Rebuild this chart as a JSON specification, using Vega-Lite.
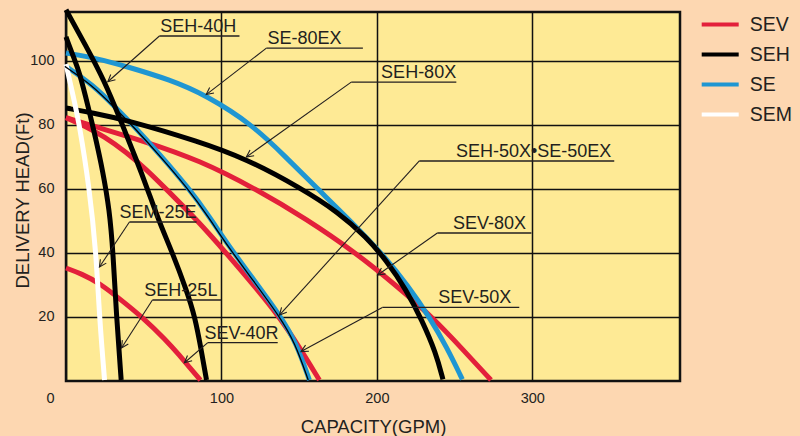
{
  "$schema": "https://vega.github.io/schema/vega-lite/v6.json",
  "width": 614,
  "height": 369,
  "autosize": {"type": "none"},
  "padding": {"left": 66, "top": 12, "right": 120, "bottom": 55},
  "background": "#FDD7B1",
  "config": {
    "view": {"fill": "#FEEA95", "stroke": "#111111", "strokeWidth": 2.5},
    "font": "Liberation Sans"
  },
  "datasets": {
    "curves": [
      {"curve": "SEV-80X", "series": "SEV", "x": 0, "y": 82.3},
      {"curve": "SEV-80X", "series": "SEV", "x": 15.1, "y": 80},
      {"curve": "SEV-80X", "series": "SEV", "x": 50, "y": 75},
      {"curve": "SEV-80X", "series": "SEV", "x": 85.8, "y": 69},
      {"curve": "SEV-80X", "series": "SEV", "x": 122.3, "y": 60},
      {"curve": "SEV-80X", "series": "SEV", "x": 155, "y": 50.5},
      {"curve": "SEV-80X", "series": "SEV", "x": 186.6, "y": 40},
      {"curve": "SEV-80X", "series": "SEV", "x": 212, "y": 30},
      {"curve": "SEV-80X", "series": "SEV", "x": 235.7, "y": 20},
      {"curve": "SEV-80X", "series": "SEV", "x": 255, "y": 10},
      {"curve": "SEV-80X", "series": "SEV", "x": 273.4, "y": 0.3},
      {"curve": "SEV-50X", "series": "SEV", "x": 0, "y": 82.3},
      {"curve": "SEV-50X", "series": "SEV", "x": 10.8, "y": 80},
      {"curve": "SEV-50X", "series": "SEV", "x": 25, "y": 76.3},
      {"curve": "SEV-50X", "series": "SEV", "x": 38.7, "y": 71.5},
      {"curve": "SEV-50X", "series": "SEV", "x": 52, "y": 66},
      {"curve": "SEV-50X", "series": "SEV", "x": 64.4, "y": 60},
      {"curve": "SEV-50X", "series": "SEV", "x": 85.8, "y": 49.5},
      {"curve": "SEV-50X", "series": "SEV", "x": 103, "y": 40},
      {"curve": "SEV-50X", "series": "SEV", "x": 121, "y": 29.8},
      {"curve": "SEV-50X", "series": "SEV", "x": 137.3, "y": 20},
      {"curve": "SEV-50X", "series": "SEV", "x": 150, "y": 10.7},
      {"curve": "SEV-50X", "series": "SEV", "x": 163, "y": 0.3},
      {"curve": "SEV-40R", "series": "SEV", "x": 0, "y": 35.3},
      {"curve": "SEV-40R", "series": "SEV", "x": 10, "y": 33.5},
      {"curve": "SEV-40R", "series": "SEV", "x": 21.5, "y": 30.6},
      {"curve": "SEV-40R", "series": "SEV", "x": 35, "y": 25.5},
      {"curve": "SEV-40R", "series": "SEV", "x": 49, "y": 20},
      {"curve": "SEV-40R", "series": "SEV", "x": 64.3, "y": 12.8},
      {"curve": "SEV-40R", "series": "SEV", "x": 73, "y": 8},
      {"curve": "SEV-40R", "series": "SEV", "x": 80, "y": 4},
      {"curve": "SEV-40R", "series": "SEV", "x": 86.5, "y": 0.3},
      {"curve": "SE-80EX", "series": "SE", "x": 0, "y": 102.5},
      {"curve": "SE-80EX", "series": "SE", "x": 20, "y": 100.8},
      {"curve": "SE-80EX", "series": "SE", "x": 38.7, "y": 98.3},
      {"curve": "SE-80EX", "series": "SE", "x": 66.6, "y": 94.2},
      {"curve": "SE-80EX", "series": "SE", "x": 90.2, "y": 89.3},
      {"curve": "SE-80EX", "series": "SE", "x": 120.1, "y": 80},
      {"curve": "SE-80EX", "series": "SE", "x": 140.5, "y": 70.4},
      {"curve": "SE-80EX", "series": "SE", "x": 160.9, "y": 60.5},
      {"curve": "SE-80EX", "series": "SE", "x": 183.5, "y": 49.8},
      {"curve": "SE-80EX", "series": "SE", "x": 204.8, "y": 39},
      {"curve": "SE-80EX", "series": "SE", "x": 220, "y": 29.8},
      {"curve": "SE-80EX", "series": "SE", "x": 233.8, "y": 20},
      {"curve": "SE-80EX", "series": "SE", "x": 245, "y": 10.5},
      {"curve": "SE-80EX", "series": "SE", "x": 255, "y": 0.5},
      {"curve": "SE-50EX", "series": "SE", "x": 0, "y": 98.3},
      {"curve": "SE-50EX", "series": "SE", "x": 17.2, "y": 92.6},
      {"curve": "SE-50EX", "series": "SE", "x": 32.3, "y": 85.3},
      {"curve": "SE-50EX", "series": "SE", "x": 44, "y": 79.5},
      {"curve": "SE-50EX", "series": "SE", "x": 60, "y": 71},
      {"curve": "SE-50EX", "series": "SE", "x": 79.4, "y": 60},
      {"curve": "SE-50EX", "series": "SE", "x": 92, "y": 51.5},
      {"curve": "SE-50EX", "series": "SE", "x": 105, "y": 42},
      {"curve": "SE-50EX", "series": "SE", "x": 121, "y": 31.5},
      {"curve": "SE-50EX", "series": "SE", "x": 138.4, "y": 20},
      {"curve": "SE-50EX", "series": "SE", "x": 148, "y": 12},
      {"curve": "SE-50EX", "series": "SE", "x": 156.6, "y": 0.3},
      {"curve": "SEH-80X", "series": "SEH", "x": 0, "y": 85.3},
      {"curve": "SEH-80X", "series": "SEH", "x": 17, "y": 83.8},
      {"curve": "SEH-80X", "series": "SEH", "x": 38.9, "y": 81.6},
      {"curve": "SEH-80X", "series": "SEH", "x": 85.8, "y": 74.8},
      {"curve": "SEH-80X", "series": "SEH", "x": 116, "y": 69.4},
      {"curve": "SEH-80X", "series": "SEH", "x": 150, "y": 60.6},
      {"curve": "SEH-80X", "series": "SEH", "x": 175.9, "y": 52.5},
      {"curve": "SEH-80X", "series": "SEH", "x": 193, "y": 45},
      {"curve": "SEH-80X", "series": "SEH", "x": 206, "y": 37.8},
      {"curve": "SEH-80X", "series": "SEH", "x": 219, "y": 28.4},
      {"curve": "SEH-80X", "series": "SEH", "x": 229, "y": 19},
      {"curve": "SEH-80X", "series": "SEH", "x": 238, "y": 8.75},
      {"curve": "SEH-80X", "series": "SEH", "x": 242.5, "y": 0.5},
      {"curve": "SEH-40H", "series": "SEH", "x": 0, "y": 116},
      {"curve": "SEH-40H", "series": "SEH", "x": 12.5, "y": 105},
      {"curve": "SEH-40H", "series": "SEH", "x": 24.8, "y": 93.75},
      {"curve": "SEH-40H", "series": "SEH", "x": 35, "y": 81.6},
      {"curve": "SEH-40H", "series": "SEH", "x": 45.3, "y": 69.1},
      {"curve": "SEH-40H", "series": "SEH", "x": 52.4, "y": 60},
      {"curve": "SEH-40H", "series": "SEH", "x": 59.5, "y": 50.3},
      {"curve": "SEH-40H", "series": "SEH", "x": 68.5, "y": 40},
      {"curve": "SEH-40H", "series": "SEH", "x": 77.5, "y": 28.4},
      {"curve": "SEH-40H", "series": "SEH", "x": 83, "y": 20},
      {"curve": "SEH-40H", "series": "SEH", "x": 87.1, "y": 9.4},
      {"curve": "SEH-40H", "series": "SEH", "x": 90.4, "y": 0.3},
      {"curve": "SEH-25L", "series": "SEH", "x": 0, "y": 107.5},
      {"curve": "SEH-25L", "series": "SEH", "x": 5.5, "y": 100.3},
      {"curve": "SEH-25L", "series": "SEH", "x": 8.4, "y": 96.9},
      {"curve": "SEH-25L", "series": "SEH", "x": 14.5, "y": 85.3},
      {"curve": "SEH-25L", "series": "SEH", "x": 19, "y": 76},
      {"curve": "SEH-25L", "series": "SEH", "x": 23.5, "y": 66},
      {"curve": "SEH-25L", "series": "SEH", "x": 28, "y": 53.4},
      {"curve": "SEH-25L", "series": "SEH", "x": 30.3, "y": 40},
      {"curve": "SEH-25L", "series": "SEH", "x": 32.5, "y": 20},
      {"curve": "SEH-25L", "series": "SEH", "x": 35.5, "y": 0.3},
      {"curve": "SEM-25E", "series": "SEM", "x": 0, "y": 99},
      {"curve": "SEM-25E", "series": "SEM", "x": 4.4, "y": 89.5},
      {"curve": "SEM-25E", "series": "SEM", "x": 8.7, "y": 80},
      {"curve": "SEM-25E", "series": "SEM", "x": 15.1, "y": 60},
      {"curve": "SEM-25E", "series": "SEM", "x": 19.4, "y": 40},
      {"curve": "SEM-25E", "series": "SEM", "x": 21.5, "y": 20},
      {"curve": "SEM-25E", "series": "SEM", "x": 24.8, "y": 0.3}
    ],
    "notes": [
      {"label": "SEH-40H", "lx1": 60.1, "lx2": 111.6, "ly": 107.8, "tx": 26.9, "ty": 93.5, "xt": 109.6},
      {"label": "SE-80EX", "lx1": 128.9, "lx2": 191, "ly": 104, "tx": 90.2, "ty": 89.5, "xt": 177.2},
      {"label": "SEH-80X", "lx1": 183.5, "lx2": 251.1, "ly": 93.4, "tx": 116, "ty": 70, "xt": 251},
      {"label": "SEH-50X•SE-50EX", "lx1": 227.3, "lx2": 352.7, "ly": 68.75, "tx": 137.3, "ty": 20.6, "xt": 350.8},
      {"label": "SEV-80X", "lx1": 238.9, "lx2": 299.4, "ly": 46.25, "tx": 200.5, "ty": 33.1, "xt": 296},
      {"label": "SEV-50X", "lx1": 203.5, "lx2": 291.6, "ly": 23, "tx": 151.2, "ty": 9.2, "xt": 286.5},
      {"label": "SEM-25E", "lx1": 40.8, "lx2": 84, "ly": 49.7, "tx": 21.5, "ty": 35.6, "xt": 84},
      {"label": "SEH-25L", "lx1": 55.6, "lx2": 99.8, "ly": 25.3, "tx": 35.7, "ty": 10.3, "xt": 97.4},
      {"label": "SEV-40R", "lx1": 91.2, "lx2": 136.2, "ly": 12, "tx": 76.2, "ty": 5.7, "xt": 136.7}
    ]
  },
  "layer": [
    {
      "data": {"name": "curves"},
      "mark": {"type": "line", "strokeWidth": 5, "interpolate": "basis", "strokeCap": "butt"},
      "encoding": {
        "x": {
          "field": "x", "type": "quantitative", "title": "CAPACITY(GPM)",
          "scale": {"domain": [0, 395], "nice": false, "zero": false},
          "axis": {
            "values": [0, 100, 200, 300],
            "title": "CAPACITY(GPM)",
            "grid": true, "gridColor": "#111111", "gridWidth": 1.5,
            "domain": false, "ticks": false,
            "labelFontSize": 14.5, "labelColor": "#231F20", "labelPadding": 10,
            "labelAlign": "center", "labelFlush": false,
            "labelOffset": {"condition": {"test": "datum.value == 0", "value": -16}, "value": 0},
            "titleFontSize": 18.5, "titleFontWeight": "normal", "titleColor": "#231F20",
            "titleY": 51.5, "titleBaseline": "alphabetic"
          }
        },
        "y": {
          "field": "y", "type": "quantitative", "title": "DELIVERY HEAD(Ft)",
          "scale": {"domain": [0, 115.3], "nice": false, "zero": false},
          "axis": {
            "values": [20, 40, 60, 80, 100],
            "title": "DELIVERY HEAD(Ft)",
            "grid": true, "gridColor": "#111111", "gridWidth": 1.5,
            "domain": false, "ticks": false,
            "labelFontSize": 14.5, "labelColor": "#231F20", "labelPadding": 12,
            "titleFontSize": 18.5, "titleFontWeight": "normal", "titleColor": "#231F20",
            "titleX": -37.5, "titleY": 188, "titleAngle": -90,
            "titleBaseline": "alphabetic", "titleAlign": "center"
          }
        },
        "color": {
          "field": "series", "type": "nominal",
          "scale": {"domain": ["SEV", "SEH", "SE", "SEM"], "range": ["#E3203B", "#000000", "#1F96D2", "#FFFFFF"]},
          "legend": {
            "orient": "none", "legendX": 633.7, "legendY": -8, "title": null,
            "symbolType": "stroke", "symbolSize": 1369, "symbolStrokeWidth": 4,
            "labelFontSize": 19.5, "labelColor": "#231F20", "labelOffset": 9,
            "rowPadding": -1, "padding": 0
          }
        },
        "detail": {"field": "curve", "type": "nominal"}
      }
    },
    {
      "data": {"name": "curves"},
      "transform": [{"filter": "datum.curve == 'SE-50EX'"}],
      "mark": {"type": "line", "strokeWidth": 1.3, "color": "#000000", "interpolate": "basis", "xOffset": -1.2},
      "encoding": {
        "x": {"field": "x", "type": "quantitative", "title": "CAPACITY(GPM)"},
        "y": {"field": "y", "type": "quantitative", "title": "DELIVERY HEAD(Ft)"}
      }
    },
    {
      "data": {"name": "notes"},
      "mark": {"type": "rule", "strokeWidth": 1.4, "color": "#231F20"},
      "encoding": {
        "x": {"field": "lx1", "type": "quantitative", "title": "CAPACITY(GPM)"},
        "x2": {"field": "lx2"},
        "y": {"field": "ly", "type": "quantitative", "title": "DELIVERY HEAD(Ft)"}
      }
    },
    {
      "data": {"name": "notes"},
      "mark": {"type": "rule", "strokeWidth": 1.1, "color": "#231F20"},
      "encoding": {
        "x": {"field": "lx1", "type": "quantitative", "title": "CAPACITY(GPM)"},
        "y": {"field": "ly", "type": "quantitative", "title": "DELIVERY HEAD(Ft)"},
        "x2": {"field": "tx"},
        "y2": {"field": "ty"}
      }
    },
    {
      "data": {"name": "notes"},
      "mark": {
        "type": "point", "shape": "M-1,-0.5L0,0L-1,0.5", "filled": false,
        "stroke": "#231F20", "strokeWidth": 1.1, "size": 200, "opacity": 1,
        "angle": {"expr": "atan2(scale('y', datum.ty) - scale('y', datum.ly), scale('x', datum.tx) - scale('x', datum.lx1)) * 180 / PI"}
      },
      "encoding": {
        "x": {"field": "tx", "type": "quantitative", "title": "CAPACITY(GPM)"},
        "y": {"field": "ty", "type": "quantitative", "title": "DELIVERY HEAD(Ft)"}
      }
    },
    {
      "data": {"name": "notes"},
      "mark": {"type": "text", "align": "right", "baseline": "alphabetic", "dy": -4, "fontSize": 18, "color": "#231F20"},
      "encoding": {
        "x": {"field": "xt", "type": "quantitative", "title": "CAPACITY(GPM)"},
        "y": {"field": "ly", "type": "quantitative", "title": "DELIVERY HEAD(Ft)"},
        "text": {"field": "label"}
      }
    }
  ]
}
